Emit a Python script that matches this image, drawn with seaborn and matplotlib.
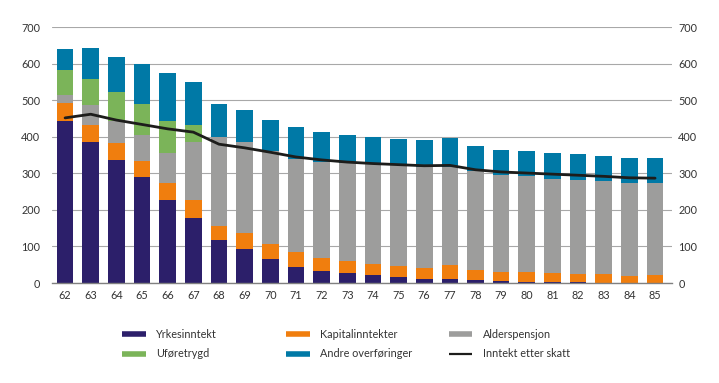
import pandas as pd
import matplotlib
matplotlib.use('Agg')
import matplotlib.pyplot as plt
from matplotlib.lines import Line2D
import seaborn as sns

# Data (1000 kr, by age)
alder = [62, 63, 64, 65, 66, 67, 68, 69, 70, 71, 72, 73,
         74, 75, 76, 77, 78, 79, 80, 81, 82, 83, 84, 85]
yrkesinntekt = [443, 385, 338, 289, 226, 178, 118, 92, 67, 44, 33, 27,
                23, 16, 12, 12, 8, 5, 3, 3, 2, 1, 0.5, 0.5]
kapitalinntekter = [50, 47, 45, 44, 49, 50, 39, 44, 40, 41, 35, 33,
                    30, 31, 28, 37, 28, 25, 26, 24, 23, 23, 18.5, 20.5]
alderspensjon = [21, 54, 60, 73, 81, 157, 244, 251, 253, 255, 262, 268,
                 273, 277, 278, 269, 270, 267, 263, 258, 256, 254, 254, 252]
uforetrygd = [69, 73, 81, 83, 87, 48, 0, 0, 0, 0, 0, 0,
              0, 0, 0, 0, 0, 0, 0, 0, 0, 0, 0, 0]
andre_overforinger = [58, 84, 94, 111, 133, 117, 89, 87, 87, 86, 83, 76,
                      75, 71, 74, 79, 69, 67, 69, 72, 71, 71, 68, 68]
inntekt_etter_skatt = [452, 462, 446, 434, 422, 413, 380, 370, 358, 345, 337, 331,
                       327, 324, 321, 322, 310, 304, 301, 298, 295, 292, 288, 287]

komponenter = ['Yrkesinntekt', 'Kapitalinntekter', 'Alderspensjon',
               'Uføretrygd', 'Andre overføringer']
farger = {'Yrkesinntekt': '#2c1f6a', 'Kapitalinntekter': '#f07e0e',
          'Alderspensjon': '#9d9d9c', 'Uføretrygd': '#7bb459',
          'Andre overføringer': '#0079a6'}
linjefarge = '#1d1d1b'

serier = [yrkesinntekt, kapitalinntekter, alderspensjon, uforetrygd, andre_overforinger]
df = pd.concat([pd.DataFrame({'alder': alder, 'komponent': k, 'verdi': v})
                for k, v in zip(komponenter, serier)], ignore_index=True)

sns.set_style('white')
plt.rcParams['font.family'] = ['Lato', 'DejaVu Sans']
fs = 7.8
tekstfarge = '#333333'

fig = plt.figure(figsize=(7.19, 3.83), dpi=100)
ax = fig.add_axes([52 / 719, 1 - 283 / 383, 620 / 719, (283 - 27.3) / 383])

# stacked bars (seaborn stacks last hue level at the bottom)
sns.histplot(data=df, x='alder', weights='verdi', hue='komponent',
             hue_order=komponenter[::-1], palette=farger, multiple='stack',
             discrete=True, shrink=0.65, linewidth=0, alpha=1, legend=False, ax=ax)
sns.lineplot(x=alder, y=inntekt_etter_skatt, color=linjefarge, linewidth=2, ax=ax)

ax.set_xlim(61.49, 85.66)
ax.set_ylim(0, 700)
yticks = [0, 100, 200, 300, 400, 500, 600, 700]
ax.set_yticks(yticks)
ax.set_xticks(alder)
ax.set_xticklabels([str(a) for a in alder])
ax.yaxis.grid(True, color='#a8a8a8', linewidth=0.8)
ax.set_axisbelow(True)
ax.set_xlabel('')
ax.set_ylabel('')
for s in ['top', 'right', 'left']:
    ax.spines[s].set_visible(False)
ax.spines['bottom'].set_color('#808080')
ax.spines['bottom'].set_linewidth(1)
ax.tick_params(axis='x', length=0, pad=5, labelsize=fs, labelcolor=tekstfarge)
ax.tick_params(axis='y', length=0, pad=8.5, labelsize=fs, labelcolor=tekstfarge)

ax2 = ax.twinx()
ax2.set_ylim(0, 700)
ax2.set_yticks(yticks)
for s in ax2.spines.values():
    s.set_visible(False)
ax2.tick_params(axis='y', length=0, pad=4.5, labelsize=fs, labelcolor=tekstfarge)

# legend: three columns, two rows
kolonner = [
    [('Yrkesinntekt', farger['Yrkesinntekt'], 4), ('Uføretrygd', farger['Uføretrygd'], 4)],
    [('Kapitalinntekter', farger['Kapitalinntekter'], 4), ('Andre overføringer', farger['Andre overføringer'], 4)],
    [('Alderspensjon', farger['Alderspensjon'], 4), ('Inntekt etter skatt', linjefarge, 1.6)],
]
xpos = [121.7, 285.7, 448.5]
for x0, kol in zip(xpos, kolonner):
    handles = [Line2D([0], [0], color=c, linewidth=lw, solid_capstyle='butt') for _, c, lw in kol]
    labels = [l for l, _, _ in kol]
    fig.legend(handles, labels, loc='center left', bbox_to_anchor=(x0 / 719, 1 - 344 / 383),
               frameon=False, fontsize=fs, handlelength=2.2, handletextpad=0.95,
               labelspacing=0.8, borderpad=0, borderaxespad=0, labelcolor=tekstfarge)

fig.savefig('out.png', dpi=100)
